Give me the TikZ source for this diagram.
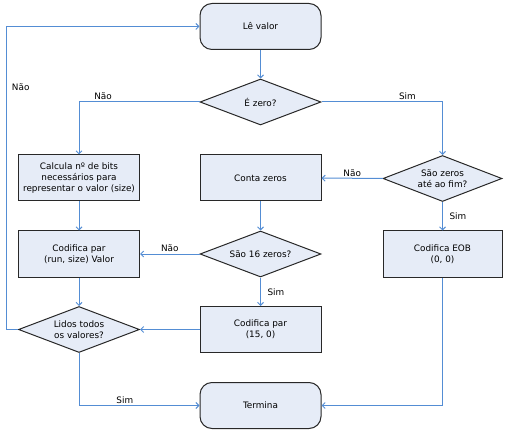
\documentclass[tikz,border=0pt]{standalone}
\usepackage{fontspec}
\setmainfont{DejaVu Sans}
\usetikzlibrary{shapes.geometric, arrows.meta}

\definecolor{linha}{RGB}{84,141,212}
\definecolor{fundo}{RGB}{230,236,247}
\definecolor{borda}{RGB}{40,40,40}

\begin{document}
\begin{tikzpicture}[x=1bp, y=-1bp,
        font=\fontsize{8.9}{11.3}\selectfont,
        caixa/.style={draw=borda, line width=1bp, fill=fundo, align=center,
                minimum width=121bp, minimum height=46bp, inner sep=0pt},
        terminal/.style={caixa, rounded corners=12bp},
        decisao/.style={caixa, diamond, aspect=2.6},
        seta/.style={draw=linha, line width=1bp, -{Straight Barb[length=3bp, width=6bp]}},
        rotulo/.style={inner sep=1.5bp}]
        \useasboundingbox (0,0) rectangle (511,434);
        \pgfmathsetmacro{\colA}{79}
        \pgfmathsetmacro{\colB}{260.5}
        \pgfmathsetmacro{\colC}{442.5}

        \node[terminal] (le) at (\colB, 26.5) {Lê valor};
        \node[decisao] (zero) at (\colB, 102) {É zero?};
        \node[caixa] (calc) at (\colA, 178) {Calcula nº de bits\\necessários para\\representar o valor (size)};
        \node[caixa] (conta) at (\colB, 178) {Conta zeros};
        \node[decisao, minimum width=119bp] (fim) at (\colC, 178.5) {São zeros\\até ao fim?};
        \node[caixa] (par) at (\colA, 254) {Codifica par\\(run, size) Valor};
        \node[decisao] (dezasseis) at (\colB, 254) {São 16 zeros?};
        \node[caixa, minimum width=119bp] (eob) at (\colC, 254) {Codifica EOB\\(0, 0)};
        \node[decisao] (lidos) at (\colA, 329.5) {Lidos todos\\os valores?};
        \node[caixa] (par15) at (\colB, 329.5) {Codifica par\\(15, 0)};
        \node[terminal] (termina) at (\colB, 405.5) {Termina};

        \draw[seta] (le) -- (zero);
        \draw[seta] (zero.west) -| node[rotulo, pos=0.4, above] {Não} (calc);
        \draw[seta] (zero.east) -| node[rotulo, pos=0.355, above] {Sim} (fim);
        \draw[seta] (fim) -- node[rotulo, above] {Não} (conta);
        \draw[seta] (fim) -- node[rotulo, right=5bp] {Sim} (eob);
        \draw[seta] (calc) -- (par);
        \draw[seta] (conta) -- (dezasseis);
        \draw[seta] (dezasseis) -- node[rotulo, above] {Não} (par);
        \draw[seta] (dezasseis) -- node[rotulo, right=5bp] {Sim} (par15);
        \draw[seta] (par) -- (lidos);
        \draw[seta] (par15) -- (lidos);
        \draw[seta] (lidos.west) -- ++(-11,0) |- node[rotulo, pos=0.4, right=3bp] {Não} (le.west);
        \draw[seta] (lidos) |- node[rotulo, pos=0.69, above] {Sim} (termina);
        \draw[seta] (eob) |- (termina);
\end{tikzpicture}
\end{document}
